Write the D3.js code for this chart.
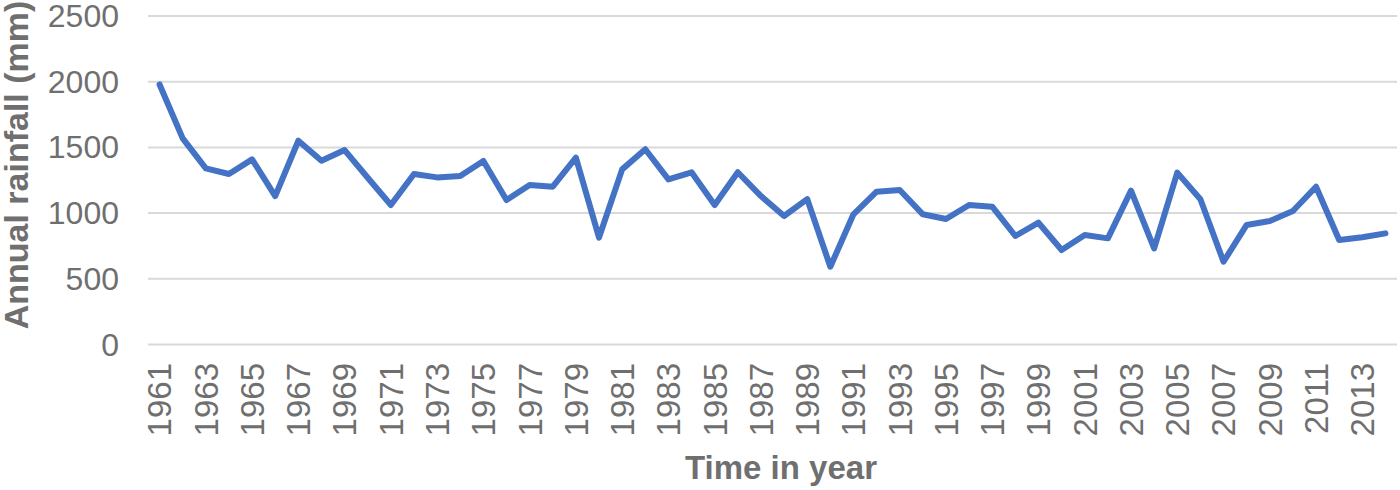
<!DOCTYPE html>
<html>
<head>
<meta charset="utf-8">
<script src="https://cdn.jsdelivr.net/npm/d3@7"></script>
<style>
  body { margin: 0; background: #fff; }
  svg text { font-family: "Liberation Sans", Arial, sans-serif; fill: #6f6f6f; }
  .grid line { stroke: #d9d9d9; stroke-width: 2; }
  .grid path { display: none; }
</style>
</head>
<body>
<div id="chart"></div>
<script>
// data
var years = [1961, 1962, 1963, 1964, 1965, 1966, 1967, 1968, 1969, 1970,
             1971, 1972, 1973, 1974, 1975, 1976, 1977, 1978, 1979, 1980,
             1981, 1982, 1983, 1984, 1985, 1986, 1987, 1988, 1989, 1990,
             1991, 1992, 1993, 1994, 1995, 1996, 1997, 1998, 1999, 2000,
             2001, 2002, 2003, 2004, 2005, 2006, 2007, 2008, 2009, 2010,
             2011, 2012, 2013, 2014];
var rainfall = [1975, 1565, 1337, 1294, 1405, 1126, 1547, 1395, 1476, 1265,
                1058, 1294, 1268, 1278, 1393, 1096, 1210, 1197, 1418, 810,
                1329, 1482, 1253, 1307, 1058, 1307, 1126, 974, 1103, 588,
                987, 1159, 1172, 987, 951, 1058, 1045, 822, 923, 715,
                829, 804, 1167, 728, 1304, 1101, 626, 906, 936, 1012,
                1197, 791, 812, 842];
var yTicks = [0, 500, 1000, 1500, 2000, 2500];
var yTitle = "Annual rainfall (mm)";
var xTitle = "Time in year";

var width = 1400, height = 490;
var plotLeft = 148, plotRight = 1397, plotTop = 15.5, plotBottom = 344;

var svg = d3.select("#chart")
            .append("svg")
            .attr("width", width)
            .attr("height", height);

var x = d3.scaleBand()
          .domain(years)
          .range([plotLeft, plotRight]);

var y = d3.scaleLinear()
          .domain([0, 2500])
          .range([plotBottom, plotTop]);

// horizontal gridlines
svg.append("g")
   .attr("class", "grid")
   .attr("transform", "translate(" + plotLeft + ",0)")
   .call(d3.axisLeft(y).tickValues(yTicks).tickSize(-(plotRight - plotLeft)).tickFormat(""));

// y tick labels
svg.append("g")
   .selectAll("text")
   .data(yTicks)
   .enter()
   .append("text")
   .attr("x", 119)
   .attr("y", function (d) { return y(d); })
   .attr("dy", "0.36em")
   .attr("text-anchor", "end")
   .style("font-size", "32px")
   .text(function (d) { return d; });

// x tick labels, every other year, rotated
svg.append("g")
   .selectAll("text")
   .data(years.filter(function (d, i) { return i % 2 === 0; }))
   .enter()
   .append("text")
   .attr("transform", function (d) {
     return "translate(" + (x(d) + x.bandwidth() / 2) + ",363) rotate(-90)";
   })
   .attr("dy", "0.36em")
   .attr("text-anchor", "end")
   .style("font-size", "33px")
   .text(function (d) { return d; });

// line
var line = d3.line()
             .x(function (d, i) { return x(years[i]) + x.bandwidth() / 2; })
             .y(function (d) { return y(d); });

svg.append("path")
   .datum(rainfall)
   .attr("d", line)
   .attr("fill", "none")
   .attr("stroke", "#4472c4")
   .attr("stroke-width", 6)
   .attr("stroke-linejoin", "round")
   .attr("stroke-linecap", "round");

// axis titles
svg.append("text")
   .attr("transform", "translate(28,165) rotate(-90)")
   .attr("text-anchor", "middle")
   .style("font-size", "34px")
   .style("font-weight", "bold")
   .text(yTitle);

svg.append("text")
   .attr("x", 781)
   .attr("y", 479)
   .attr("text-anchor", "middle")
   .style("font-size", "33px")
   .style("font-weight", "bold")
   .text(xTitle);
</script>
</body>
</html>
